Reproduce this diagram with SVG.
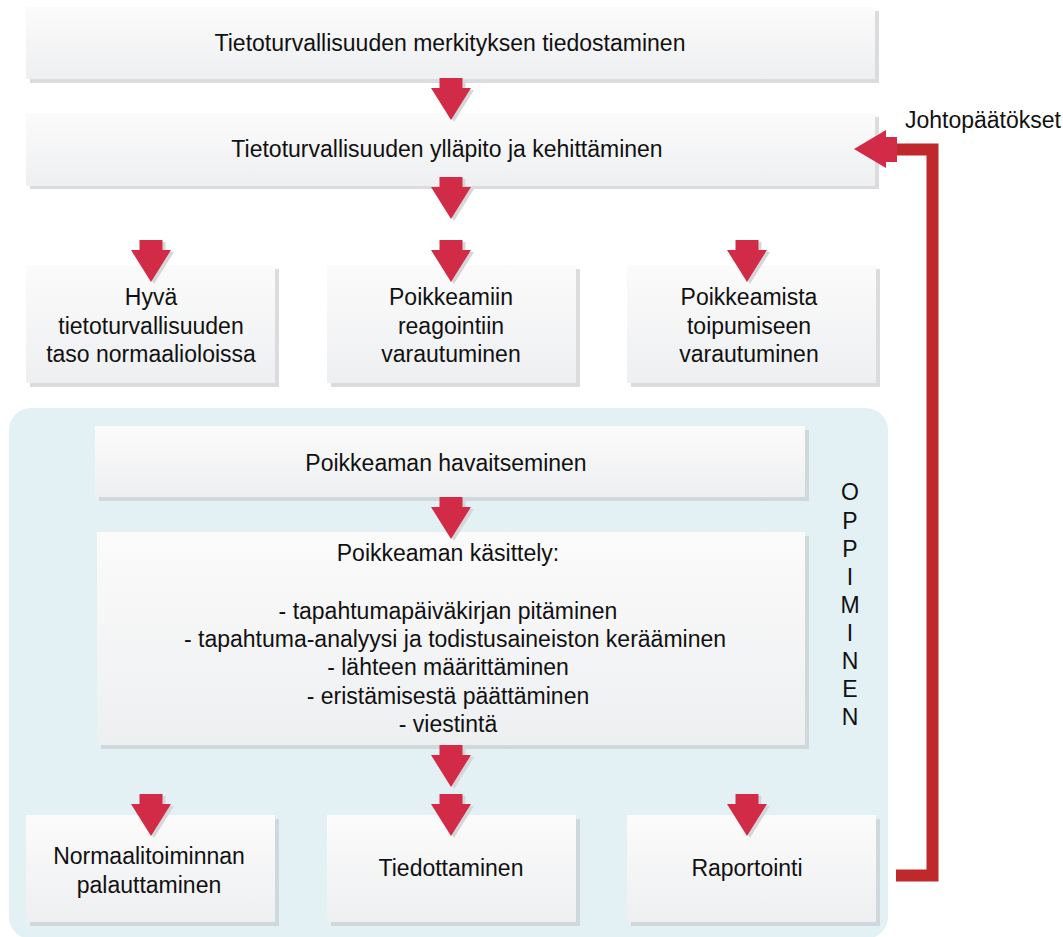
<svg xmlns="http://www.w3.org/2000/svg" width="1063" height="937" viewBox="0 0 1063 937">
  <defs>
    <linearGradient id="boxFill" x1="0" y1="0" x2="0" y2="1">
      <stop offset="0" stop-color="#fbfbfb"/>
      <stop offset="1" stop-color="#eeeff1"/>
    </linearGradient>
    <!-- block arrow pointing down, origin at top centre of the shaft -->
    <path id="downArrow" d="M-11.5,0 H11.5 V10 H20 L0,42 L-20,10 H-11.5 Z"/>
    <g id="arrowDown">
      <use href="#downArrow" transform="translate(3,2)" fill="#d6d6d8"/>
      <use href="#downArrow" fill="#d22b48"/>
    </g>
  </defs>
  <style>
    .shadow { fill: #dcdcde; }
    .shadowBlue { fill: #cfd8db; }
    .box { fill: url(#boxFill); }
    text { font-family: "Liberation Sans", Arial, sans-serif; font-size: 23px; fill: #111; text-anchor: middle; }
    .connector { fill: none; stroke: #c0292c; stroke-width: 12; }
  </style>

  <rect width="1063" height="937" fill="#ffffff"/>

  <!-- learning area -->
  <rect id="learningArea" x="9" y="408" width="879" height="531" rx="22" fill="#e3f0f4"/>

  <g id="n1">
    <rect class="shadow" x="30" y="11" width="849" height="72"/>
    <rect class="box" x="26" y="7" width="849" height="72"/>
    <text x="450" y="51">Tietoturvallisuuden merkityksen tiedostaminen</text>
  </g>

  <g id="n2">
    <rect class="shadow" x="30" y="117" width="849" height="72"/>
    <rect class="box" x="26" y="113" width="849" height="73"/>
    <text x="447" y="157">Tietoturvallisuuden ylläpito ja kehittäminen</text>
  </g>

  <g id="n3">
    <rect class="shadow" x="30" y="269" width="249" height="118"/>
    <rect class="box" x="26" y="265" width="249" height="118"/>
    <text x="151" y="305">Hyvä</text>
    <text x="151" y="334">tietoturvallisuuden</text>
    <text x="151" y="362">taso normaalioloissa</text>
  </g>

  <g id="n4">
    <rect class="shadow" x="331" y="269" width="249" height="118"/>
    <rect class="box" x="327" y="265" width="249" height="118"/>
    <text x="451" y="305">Poikkeamiin</text>
    <text x="451" y="334">reagointiin</text>
    <text x="451" y="362">varautuminen</text>
  </g>

  <g id="n5">
    <rect class="shadow" x="631" y="269" width="249" height="118"/>
    <rect class="box" x="627" y="265" width="249" height="118"/>
    <text x="749" y="305">Poikkeamista</text>
    <text x="749" y="334">toipumiseen</text>
    <text x="749" y="362">varautuminen</text>
  </g>

  <g id="n6">
    <rect class="shadowBlue" x="99" y="430" width="710" height="71"/>
    <rect class="box" x="95" y="426" width="710" height="71"/>
    <text x="446" y="471">Poikkeaman havaitseminen</text>
  </g>

  <g id="n7">
    <rect class="shadowBlue" x="101" y="536" width="708" height="213"/>
    <rect class="box" x="97" y="532" width="708" height="213"/>
    <text x="448" y="561">Poikkeaman käsittely:</text>
    <text x="448" y="619">- tapahtumapäiväkirjan pitäminen</text>
    <text x="455" y="647">- tapahtuma-analyysi ja todistusaineiston kerääminen</text>
    <text x="448" y="675">- lähteen määrittäminen</text>
    <text x="448" y="704">- eristämisestä päättäminen</text>
    <text x="448" y="732">- viestintä</text>
  </g>

  <g id="n8">
    <rect class="shadowBlue" x="30" y="819" width="249" height="107"/>
    <rect class="box" x="26" y="815" width="249" height="107"/>
    <text x="149" y="864">Normaalitoiminnan</text>
    <text x="149" y="893">palauttaminen</text>
  </g>

  <g id="n9">
    <rect class="shadowBlue" x="331" y="819" width="249" height="107"/>
    <rect class="box" x="327" y="815" width="249" height="107"/>
    <text x="451" y="876">Tiedottaminen</text>
  </g>

  <g id="n10">
    <rect class="shadowBlue" x="631" y="819" width="249" height="107"/>
    <rect class="box" x="627" y="815" width="249" height="107"/>
    <text x="747" y="876">Raportointi</text>
  </g>

  <g id="learningLabel">
    <text x="850" y="500">O</text>
    <text x="850" y="529">P</text>
    <text x="850" y="557">P</text>
    <text x="850" y="585">I</text>
    <text x="850" y="613">M</text>
    <text x="850" y="641">I</text>
    <text x="850" y="669">N</text>
    <text x="850" y="697">E</text>
    <text x="850" y="725">N</text>
  </g>

  <g id="feedbackLabel">
    <text x="983" y="128">Johtopäätökset</text>
  </g>

  <g id="connectors">
    <use href="#arrowDown" x="451" y="78"/>
    <use href="#arrowDown" x="451" y="177"/>
    <use href="#arrowDown" x="151" y="240"/>
    <use href="#arrowDown" x="451" y="240"/>
    <use href="#arrowDown" x="747" y="240"/>
    <use href="#arrowDown" x="451" y="497"/>
    <use href="#arrowDown" x="451" y="745"/>
    <use href="#arrowDown" x="151" y="794"/>
    <use href="#arrowDown" x="451" y="794"/>
    <use href="#arrowDown" x="747" y="794"/>
    <!-- feedback loop from reporting back to maintenance -->
    <path class="connector" d="M896,875.5 H932.5 V149.5 H896"/>
    <path d="M897,137 V162 H886 V168 L854,149 L886,130 V137 Z" fill="#d22b48"/>
  </g>
</svg>
